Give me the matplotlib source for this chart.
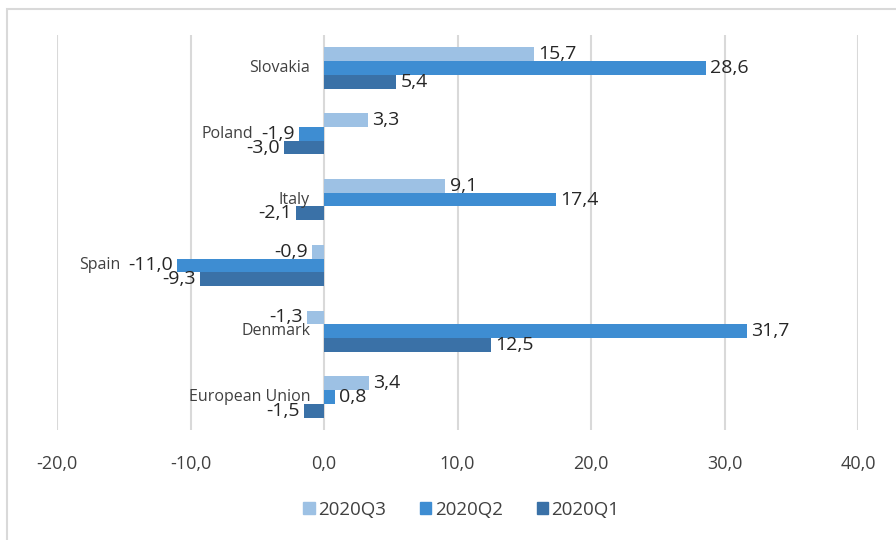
# coding:utf8
import numpy as np
import matplotlib.pyplot as plt
from matplotlib import rcParams
from matplotlib.patches import Patch, Rectangle
from matplotlib.ticker import FuncFormatter

rcParams['font.family'] = ['Open Sans', 'DejaVu Sans']

countries = ["Slovakia", "Poland", "Italy", "Spain", "Denmark", "European Union"]
series = ["2020Q3", "2020Q2", "2020Q1"]
q3 = [15.7, 3.3, 9.1, -0.9, -1.3, 3.4]
q2 = [28.6, -1.9, 17.4, -11.0, 31.7, 0.8]
q1 = [5.4, -3.0, -2.1, -9.3, 12.5, -1.5]
colors = ["#9DC1E4", "#3E8DD2", "#3A71A7"]

fig = plt.figure(figsize=(8.96, 5.40), dpi=100)
ax = fig.add_axes([57/896, 1-430/540, (858-57)/896, (430-35)/540])

y = np.arange(len(countries))
h = 0.21
txt_col = "#404040"
q2_labels = []
for k, (vals, col) in enumerate(zip([q3, q2, q1], colors)):
    yy = y + (k - 1) * h
    ax.barh(yy, vals, height=h, color=col, zorder=2)
    for yi, v in zip(yy, vals):
        s = ("%.1f" % v).replace(".", ",")
        if v >= 0:
            t = ax.annotate(s, (v, yi), xytext=(3, 0), textcoords="offset points",
                            ha="left", va="center", fontsize=14, color="#262626")
        else:
            t = ax.annotate(s, (v, yi), xytext=(-3, 0), textcoords="offset points",
                            ha="right", va="center", fontsize=14, color="#262626")
        if k == 1:
            q2_labels.append(t)

# category labels sit next to the zero line, or left of a negative Q2 label
for i, name in enumerate(countries):
    if q2[i] < 0:
        ax.annotate(name, xy=(0, 0.5), xycoords=q2_labels[i], xytext=(-6, 0),
                    textcoords="offset points", ha="right", va="center",
                    fontsize=11.5, color=txt_col)
    else:
        ax.annotate(name, (0, y[i]), xytext=(-10, 0), textcoords="offset points",
                    ha="right", va="center", fontsize=11.5, color=txt_col)

ax.set_xlim(-20, 40)
ax.set_ylim(len(countries) - 0.5, -0.5)
ax.set_xticks(np.arange(-20, 41, 10))
ax.xaxis.set_major_formatter(FuncFormatter(lambda v, p: ("%.1f" % v).replace(".", ",")))
ax.set_yticks([])
ax.tick_params(axis="x", length=0, pad=18, labelsize=13, labelcolor=txt_col)
ax.grid(axis="x", color="#d9d9d9", lw=1.5, zorder=0)
for sp in ax.spines.values():
    sp.set_visible(False)

handles = [Patch(color=c, label=s) for c, s in zip(colors, series)]
fig.legend(handles=handles, loc="center", bbox_to_anchor=(0.515, 1-510/540), ncol=3,
           frameon=False, fontsize=13.5, handlelength=0.6, handleheight=0.6,
           handletextpad=0.2, columnspacing=1.8, labelcolor=txt_col)

fig.patches.append(Rectangle((7/896, -0.05), 1.0, 1.05-9/540, transform=fig.transFigure,
                             fill=False, edgecolor="#d9d9d9", lw=1.5))

plt.savefig("out.png", dpi=100)
